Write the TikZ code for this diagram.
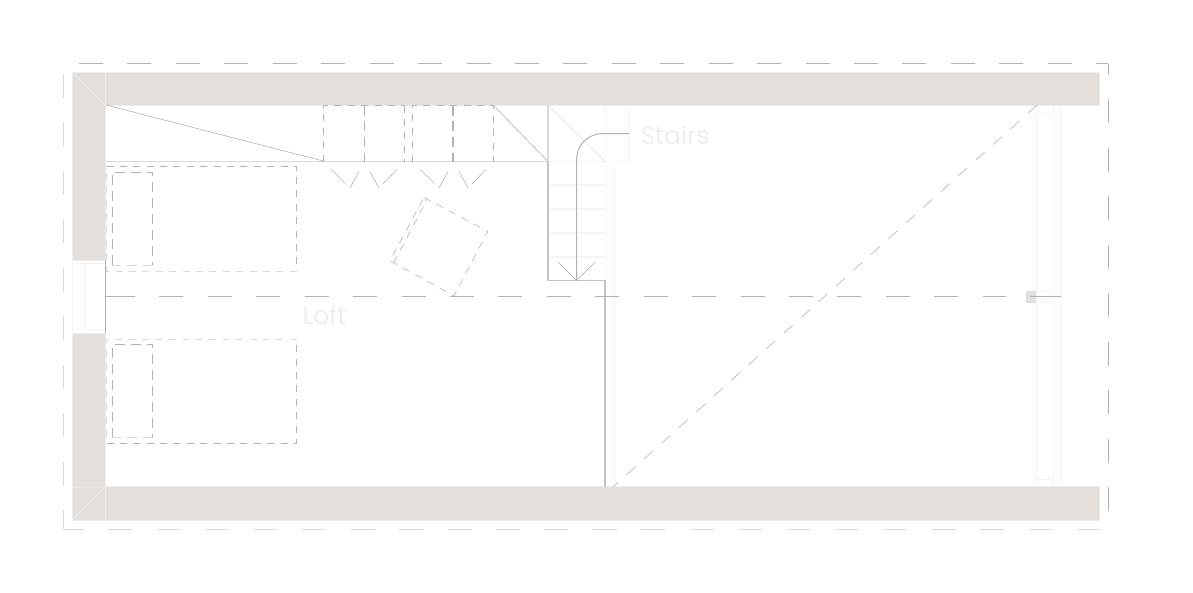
\documentclass[tikz,border=0pt]{standalone}
\usepackage{fontspec}
\setmainfont{Poppins}
\usetikzlibrary{positioning,calc}
\definecolor{wallfill}{HTML}{E5DFDC}
\definecolor{wallline}{HTML}{EFEBE8}
\definecolor{labeltext}{HTML}{F3EEE6}
\definecolor{darkline}{HTML}{B2B2B2}
\definecolor{midline}{HTML}{C4C4C4}
\definecolor{softline}{HTML}{DADADA}
\definecolor{faintline}{HTML}{F4F4F4}

\begin{document}
\begin{tikzpicture}[x=0.02cm,y=-0.02cm,line width=0.02cm]
	\tikzset{wall/.style = {fill=wallfill,draw=wallline,line width=0.01cm}}
	\tikzset{longdash/.style = {dash pattern=on 0.48cm off 0.489cm}}
	\tikzset{beddash/.style = {dash pattern=on 0.14cm off 0.128cm}}
	\tikzset{pillowdash/.style = {dash pattern=on 0.2cm off 0.12cm}}
	\tikzset{hairline/.style = {darkline,line width=0.012cm}}
	\tikzset{roomlabel/.style = {text=labeltext,font=\fontsize{14.2pt}{16pt}\selectfont,inner sep=0pt}}
	\useasboundingbox (0,0) rectangle (1193,592);
	% outer dashed line
	\draw[longdash,darkline] (79,63.5) -- (1108,63.5);
	\draw[longdash,darkline,dash phase=0.25cm] (1108,63.5) -- (1108,514);
	\draw[longdash,softline,dash phase=0.07cm] (63.5,529) -- (1101,529);
	\draw[longdash,softline,dash phase=0.1cm] (63.5,529) -- (63.5,72);
	% walls
	\draw[wall] (72,72) rectangle (1099,105.7);
	\draw[wall] (72,486.7) rectangle (1099,520);
	\draw[wall] (72,72) rectangle (105.7,260);
	\draw[wall] (72,333) rectangle (105.7,520);
	\fill[wallfill] (73,73) rectangle (105,105) (73,488) rectangle (105,519);
	\draw[wallline] (72,72) -- (105.5,105.5) -- (105.5,72);
	\draw[wallline] (72,520) -- (105.5,487) -- (105.5,520) (72,487) -- (105.5,487);
	% left window
	\draw[faintline] (72.5,260) -- (72.5,333);
	\draw[faintline] (84.5,263.5) -- (84.5,329) (72.5,263.5) -- (105,263.5) (72.5,329) -- (105,329);
	\draw[darkline] (105.5,260) -- (105.5,333);
	% right window
	\draw[faintline,line width=0.03cm] (1036.5,106) -- (1036.5,487);
	\draw[faintline] (1053,106) -- (1053,487) (1060.5,106) -- (1060.5,487);
	\draw[faintline] (1036.5,113) -- (1053,113) (1036.5,479.5) -- (1053,479.5);
	\fill[wallfill] (1026,291) rectangle (1036.5,302.5);
	\draw[faintline] (1036.5,291) rectangle (1053,302.5);
	% faint stair guides
	\draw[faintline] (614,161.5) -- (614,487) (628.5,105) -- (628.5,161.5) -- (548,161.5);
	\draw[faintline] (605,105) -- (605,280);
	\foreach \treadY in {185,209,233,257}
		\draw[faintline,line width=0.03cm] (548,\treadY) -- (605,\treadY);
	\draw[softline,line width=0.01cm] (548,105) -- (605,161.5);
	% partition lines
	\draw[softline,line width=0.03cm] (106,161.5) -- (548,161.5);
	\draw[softline,line width=0.03cm] (548,105) -- (548,161.5);
	\draw[midline,line width=0.03cm] (548,161.5) -- (548,280.5) -- (605,280.5) -- (605,487);
	\draw[hairline] (106,105) -- (325,161.5);
	\draw[hairline] (493.5,105.5) -- (548,161.5);
	% wardrobes
	\draw[darkline,beddash] (323.5,161.5) -- (323.5,105.5) -- (404.7,105.5);
	\draw[darkline,beddash] (404.7,105.5) -- (404.7,161.5);
	\draw[darkline,beddash] (412.5,161.5) -- (412.5,105.5) -- (493.5,105.5) -- (493.5,161.5);
	\draw[darkline,pillowdash,line width=0.025cm] (364.5,105.5) -- (364.5,161.5);
	\draw[darkline,pillowdash,line width=0.025cm] (453,105.5) -- (453,161.5);
	\foreach \doorX in {323.5,412.5}
		\foreach \hingeX/\tipX in {0/26.5,41/26.5,41/55.5,81.2/55.5}
			\draw[hairline,dash pattern=on 0pt off 0.22cm on 0.4cm off 2cm]
				(\doorX+\hingeX,161.5) -- (\doorX+\tipX,188);
	% table
	\draw[hairline,dash pattern=on 0.15cm off 0.13cm] (424,197.5) -- (487.7,231.5) -- (454,296) -- (390,260.7) -- cycle;
	\draw[hairline,dash pattern=on 0.15cm off 0.13cm,dash phase=0.1cm] (427.5,198.5) -- (393.5,263);
	% beds
	\draw[darkline,beddash] (106.5,166.3) -- (296.7,166.3) -- (296.7,271);
	\draw[softline,beddash] (296.7,271) -- (106.5,271) -- (106.5,166.3);
	\draw[darkline,pillowdash] (112.3,265.3) -- (112.3,172) -- (152.7,172) -- (152.7,265.3);
	\draw[softline,pillowdash] (152.7,265.3) -- (112.3,265.3);
	\draw[softline,beddash] (296.7,339) -- (106.5,339) -- (106.5,443.3);
	\draw[darkline,beddash] (106.5,443.3) -- (296.7,443.3) -- (296.7,339);
	\draw[darkline,pillowdash] (112.3,437.7) -- (112.3,344.3) -- (152.7,344.3) -- (152.7,437.7);
	\draw[softline,pillowdash] (152.7,437.7) -- (112.3,437.7);
	% centre and roof lines
	\draw[darkline] (106,296.5) -- (135,296.5);
	\draw[darkline,longdash] (159.3,296.5) -- (1006,296.5);
	\draw[darkline] (1030,296.5) -- (1061,296.5);
	\draw[hairline,dash pattern=on 0.24cm off 0.23cm] (1037,105) -- (613,487);
	% labels
	\node[roomlabel,anchor=west] (stairs) at (640,135) {Stairs};
	\node[roomlabel,anchor=west] (loft) at (302,315) {Loft};
	\coordinate (stairsleader) at (629,133.5);
	% stair arrow
	\draw[darkline] (stairsleader) -- (603,133.5) .. controls (588,133.5) and (576.5,145) .. (576.5,160) -- (576.5,280.5);
	\draw[hairline] (557.7,261.7) -- (576.5,280.5) -- (595.5,261.7);
\end{tikzpicture}
\end{document}
